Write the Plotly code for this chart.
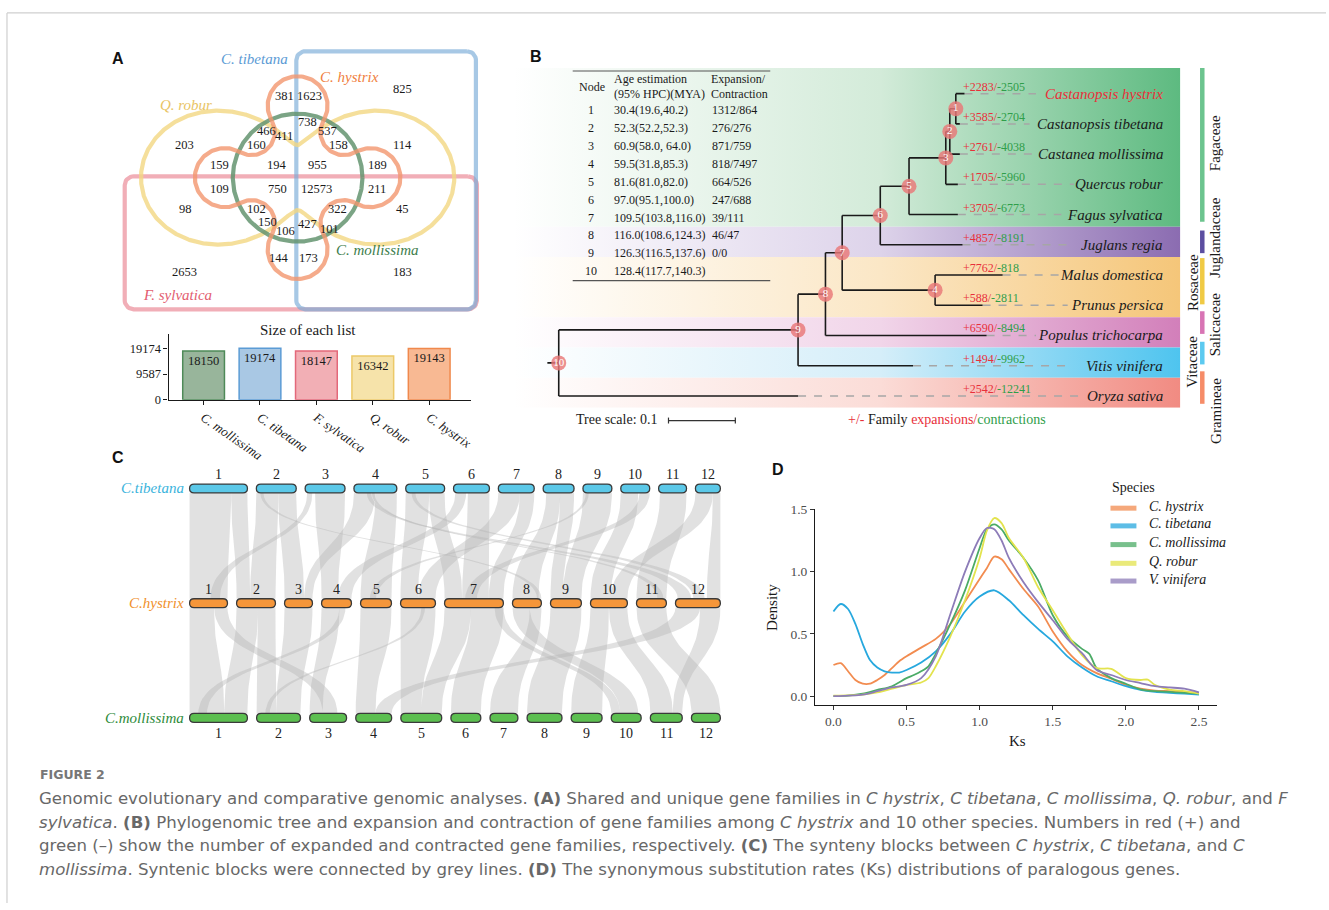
import numpy as np
import plotly.graph_objects as go

W, H = 1329, 910
SERIF = "Liberation Serif"
SANS = "Liberation Sans"
CAPF = "DejaVu Sans"

# ===================== DATA =====================
# ---- Panel A: Venn + list sizes ----
venn_set_names = ["C. tibetana", "C. hystrix", "Q. robur", "C. mollissima", "F. sylvatica"]
venn_region_counts = [825, 381, 1623, 738, 466, 411, 537, 203, 160, 158, 114,
                      159, 194, 955, 189, 109, 750, 12573, 211, 98, 102, 322, 45,
                      150, 106, 427, 101, 144, 173, 2653, 183]
list_names = ["C. mollissima", "C. tibetana", "F. sylvatica", "Q. robur", "C. hystrix"]
list_sizes = [18150, 19174, 18147, 16342, 19143]
size_ticks = [0, 9587, 19174]

# ---- Panel B: table + tree ----
table_node = ["1", "2", "3", "4", "5", "6", "7", "8", "9", "10"]
table_age = ["30.4(19.6,40.2)", "52.3(52.2,52.3)", "60.9(58.0, 64.0)", "59.5(31.8,85.3)",
             "81.6(81.0,82.0)", "97.0(95.1,100.0)", "109.5(103.8,116.0)", "116.0(108.6,124.3)",
             "126.3(116.5,137.6)", "128.4(117.7,140.3)"]
table_expcon = ["1312/864", "276/276", "871/759", "818/7497", "664/526", "247/688",
                "39/111", "46/47", "0/0", ""]
species = ["Castanopsis hystrix", "Castanopsis tibetana", "Castanea mollissima", "Quercus robur",
           "Fagus sylvatica", "Juglans regia", "Malus domestica", "Prunus persica",
           "Populus trichocarpa", "Vitis vinifera", "Oryza sativa"]
leaf_depth = [0.607, 0.600, 0.600, 0.597, 0.597, 0.604, 0.664, 0.634, 0.640, 0.530, 0.358]
species_expansion = [2283, 3585, 2761, 1705, 3705, 4857, 7762, 588, 6590, 1494, 2542]
species_contraction = [2505, 2704, 4038, 5960, 6773, 8191, 818, 2811, 8494, 9962, 12241]
node_names = [1, 2, 3, 4, 5, 6, 7, 8, 9, 10]
node_children = [("Castanopsis hystrix", "Castanopsis tibetana"), (1, "Castanea mollissima"),
                 (2, "Quercus robur"), ("Malus domestica", "Prunus persica"), (3, "Fagus sylvatica"),
                 (5, "Juglans regia"), (6, 4), (7, "Populus trichocarpa"), (8, "Vitis vinifera"),
                 (9, "Oryza sativa")]
node_depth = [0.594, 0.585, 0.579, 0.563, 0.524, 0.481, 0.424, 0.399, 0.358, 0.0]
families = ["Fagaceae", "Juglandaceae", "Rosaceae", "Salicaceae", "Vitaceae", "Gramineae"]
family_first_leaf = [0, 5, 6, 8, 9, 10]
family_last_leaf = [4, 5, 7, 8, 9, 10]
tree_scale = 0.1

# ---- Panel C: synteny ----
genomes = ["C.tibetana", "C.hystrix", "C.mollissima"]
tib_chr_len = [58, 40, 40, 43, 39, 36, 36, 31, 29, 29, 28, 25]
hys_chr_len = [38, 39, 28, 30, 31, 35, 59, 29, 31, 37, 30, 45]
mol_chr_len = [58, 44, 37, 36, 41, 30, 28, 35, 31, 30, 32, 29]
# blocks: (chrA, startFracA, endFracA, chrB, startFracB, endFracB)
syn_tib_hys = [
    (1, 0.00, 0.72, 1, 0.00, 1.00), (1, 0.72, 1.00, 2, 0.00, 0.35),
    (2, 0.00, 0.55, 2, 0.35, 1.00), (2, 0.55, 1.00, 3, 0.00, 0.70),
    (3, 0.05, 0.18, 1, 0.55, 0.80), (3, 0.25, 1.00, 4, 0.00, 0.55),
    (4, 0.00, 0.50, 3, 0.70, 1.00), (4, 0.50, 1.00, 5, 0.00, 1.00),
    (5, 0.00, 0.60, 6, 0.00, 0.50), (5, 0.60, 1.00, 7, 0.00, 0.30),
    (6, 0.05, 0.35, 4, 0.55, 1.00), (6, 0.40, 1.00, 7, 0.30, 0.75),
    (7, 0.00, 0.60, 6, 0.50, 1.00), (7, 0.60, 1.00, 7, 0.75, 1.00),
    (8, 0.10, 0.55, 8, 0.00, 0.90), (8, 0.55, 1.00, 9, 0.00, 0.40),
    (9, 0.00, 1.00, 9, 0.40, 1.00), (10, 0.00, 0.60, 10, 0.00, 0.55),
    (10, 0.65, 1.00, 7, 0.35, 0.55), (11, 0.05, 1.00, 11, 0.00, 1.00),
    (12, 0.00, 0.70, 10, 0.55, 1.00), (12, 0.70, 1.00, 12, 0.70, 1.00),
    (4, 0.30, 0.40, 12, 0.05, 0.35), (5, 0.15, 0.25, 12, 0.40, 0.65),
    (4, 0.42, 0.48, 11, 0.70, 0.90), (2, 0.10, 0.18, 8, 0.85, 1.00),
    (9, 0.10, 0.20, 5, 0.30, 0.50),
]
syn_hys_mol = [
    (1, 0.00, 0.65, 1, 0.00, 0.60), (1, 0.65, 1.00, 3, 0.35, 0.75),
    (2, 0.00, 0.55, 1, 0.60, 1.00), (2, 0.55, 1.00, 2, 0.00, 0.45),
    (3, 0.00, 1.00, 2, 0.45, 1.00), (4, 0.00, 0.60, 3, 0.00, 0.35),
    (4, 0.60, 0.80, 1, 0.15, 0.30), (5, 0.00, 1.00, 4, 0.00, 0.55),
    (6, 0.00, 1.00, 5, 0.00, 0.50), (7, 0.00, 0.45, 5, 0.50, 1.00),
    (7, 0.45, 1.00, 6, 0.00, 1.00), (8, 0.00, 0.60, 10, 0.30, 0.90),
    (8, 0.60, 1.00, 7, 0.00, 1.00), (9, 0.00, 1.00, 8, 0.00, 1.00),
    (10, 0.00, 0.50, 9, 0.00, 1.00), (10, 0.50, 1.00, 11, 0.00, 0.70),
    (11, 0.00, 1.00, 12, 0.00, 1.00), (12, 0.00, 0.55, 4, 0.55, 1.00),
    (12, 0.55, 1.00, 11, 0.70, 1.00), (7, 0.85, 1.00, 10, 0.00, 0.30),
    (6, 0.60, 0.70, 2, 0.20, 0.30),
]

# ---- Panel D: Ks density ----
ks_species = ["C. hystrix", "C. tibetana", "C. mollissima", "Q. robur", "V. vinifera"]
hystrix_ks = [0, 0.05, 0.1, 0.15, 0.2, 0.25, 0.3, 0.35, 0.4, 0.45, 0.5, 0.6, 0.7, 0.8, 0.9, 1.0, 1.05,
              1.1, 1.15, 1.2, 1.3, 1.4, 1.5, 1.6, 1.7, 1.8, 1.9, 2.0, 2.1, 2.2, 2.3, 2.4, 2.5]
hystrix_density = [0.25, 0.265, 0.20, 0.13, 0.10, 0.10, 0.13, 0.17, 0.225, 0.28, 0.32, 0.39, 0.46, 0.58,
                   0.76, 0.94, 1.03, 1.12, 1.10, 1.02, 0.86, 0.72, 0.52, 0.36, 0.25, 0.185, 0.14, 0.09,
                   0.06, 0.045, 0.04, 0.032, 0.027]
tibetana_ks = [0, 0.05, 0.1, 0.15, 0.2, 0.25, 0.3, 0.35, 0.4, 0.45, 0.5, 0.6, 0.7, 0.8, 0.9, 1.0, 1.1,
               1.2, 1.3, 1.4, 1.5, 1.6, 1.7, 1.8, 1.9, 2.0, 2.1, 2.2, 2.3, 2.4, 2.5]
tibetana_density = [0.68, 0.74, 0.70, 0.58, 0.42, 0.29, 0.23, 0.20, 0.19, 0.19, 0.21, 0.27, 0.36, 0.50,
                    0.68, 0.80, 0.85, 0.77, 0.65, 0.54, 0.44, 0.32, 0.23, 0.16, 0.12, 0.08, 0.05, 0.035,
                    0.027, 0.02, 0.013]
mollissima_ks = [0, 0.1, 0.2, 0.3, 0.4, 0.5, 0.55, 0.6, 0.65, 0.7, 0.8, 0.9, 1.0, 1.05, 1.1, 1.15, 1.2,
                 1.3, 1.4, 1.5, 1.6, 1.7, 1.75, 1.8, 1.9, 2.0, 2.1, 2.2, 2.3, 2.4, 2.5]
mollissima_density = [0.0, 0.005, 0.02, 0.05, 0.08, 0.145, 0.17, 0.20, 0.24, 0.34, 0.58, 0.85, 1.19,
                      1.34, 1.38, 1.34, 1.25, 1.11, 0.93, 0.65, 0.48, 0.38, 0.34, 0.225, 0.145, 0.10,
                      0.055, 0.04, 0.035, 0.027, 0.02]
robur_ks = [0, 0.2, 0.3, 0.4, 0.5, 0.6, 0.65, 0.7, 0.8, 0.9, 1.0, 1.05, 1.1, 1.15, 1.2, 1.3, 1.4, 1.5,
            1.6, 1.7, 1.8, 1.9, 2.0, 2.1, 2.15, 2.2, 2.3, 2.4, 2.5]
robur_density = [0.005, 0.013, 0.03, 0.06, 0.09, 0.11, 0.145, 0.24, 0.48, 0.77, 1.11, 1.33, 1.43, 1.39,
                 1.27, 1.11, 0.875, 0.69, 0.50, 0.33, 0.225, 0.22, 0.145, 0.13, 0.133, 0.09, 0.053,
                 0.04, 0.02]
vinifera_ks = [0, 0.2, 0.3, 0.4, 0.5, 0.6, 0.7, 0.8, 0.9, 1.0, 1.05, 1.1, 1.15, 1.2, 1.3, 1.4, 1.5, 1.6,
               1.7, 1.8, 1.9, 2.0, 2.1, 2.2, 2.3, 2.4, 2.5]
vinifera_density = [0.0, 0.013, 0.04, 0.07, 0.09, 0.145, 0.32, 0.66, 1.0, 1.27, 1.35, 1.34, 1.25, 1.11,
                    0.915, 0.755, 0.61, 0.46, 0.345, 0.21, 0.17, 0.13, 0.105, 0.08, 0.07, 0.06, 0.03]
ks_x_ticks = [0, 0.5, 1.0, 1.5, 2.0, 2.5]
ks_y_ticks = [0, 0.5, 1.0, 1.5]

# ===================== LAYOUT HELPERS =====================
def dx(a, b):
    return [a / W, b / W]


def dy(a, b):
    return [1 - b / H, 1 - a / H]


fig = go.Figure()
annotations = []
shapes = []


def ann(x, y, text, size=13, color="#1a1a1a", family=SERIF, xanchor="center", yanchor="middle",
        xref="x", yref="y", angle=0, **kw):
    annotations.append(dict(x=x, y=y, text=text, xref=xref, yref=yref, showarrow=False,
                            font=dict(size=size, color=color, family=family), xanchor=xanchor,
                            yanchor=yanchor, textangle=angle, **kw))


def seg(x0, y0, x1, y1, color, width):
    shapes.append(dict(type="line", x0=x0, y0=y0, x1=x1, y1=y1, xref="x", yref="y",
                       line=dict(color=color, width=width), layer="above"))


def line_trace(xs, ys, color, width, axes=("x", "y"), dash=None, opacity=1.0):
    fig.add_trace(go.Scatter(x=xs, y=ys, mode="lines", xaxis=axes[0], yaxis=axes[1],
                             line=dict(color=color, width=width, dash=dash), opacity=opacity,
                             hoverinfo="skip", showlegend=False))


# ----- frame -----
seg(7, 6, W, 6, "#cfcfcf", 1.2)
seg(7, 6, 7, H, "#cfcfcf", 1.2)

# ===================== PANEL A: Venn =====================
vcx, vcy = 298.3, 173.3
th = np.linspace(0, 2 * np.pi, 1441)


def rounded_rect(x0, y0, x1, y1, r, n=10):
    xs, ys = [], []
    for cx, cy, a0, a1 in [(x1 - r, y0 + r, -90, 0), (x1 - r, y1 - r, 0, 90),
                           (x0 + r, y1 - r, 90, 180), (x0 + r, y0 + r, 180, 270)]:
        a = np.radians(np.linspace(a0, a1, n))
        xs += list(cx + r * np.cos(a))
        ys += list(cy + r * np.sin(a))
    xs.append(xs[0]); ys.append(ys[0])
    return xs, ys


def flower(cx, cy, d, rho, rmin, n=80):
    """Four circular lobes joined by concave fillet arcs."""
    D = (d ** 2 - (rho - rmin) ** 2) / (np.sqrt(2) * d + 2 * (rho - rmin))
    rf = D - rmin
    lob = [np.array([d * np.cos(k * np.pi / 2), d * np.sin(k * np.pi / 2)]) for k in range(4)]
    fil = [np.array([D * np.cos(k * np.pi / 2 + np.pi / 4), D * np.sin(k * np.pi / 2 + np.pi / 4)])
           for k in range(4)]
    xs, ys = [], []
    for k in range(4):
        L, Fp, Fn = lob[k], fil[k - 1], fil[k]
        bs = np.arctan2(*(Fp - L)[::-1])
        be = np.arctan2(*(Fn - L)[::-1])
        while be < bs:
            be += 2 * np.pi
        a = np.linspace(bs, be, n)
        xs += list(L[0] + rho * np.cos(a)); ys += list(L[1] + rho * np.sin(a))
        F, Ln = fil[k], lob[(k + 1) % 4]
        a_s = np.arctan2(*(L - F)[::-1])
        a_e = np.arctan2(*(Ln - F)[::-1])
        while a_e > a_s:
            a_e -= 2 * np.pi
        a = np.linspace(a_s, a_e, n // 2)
        xs += list(F[0] + rf * np.cos(a)); ys += list(F[1] + rf * np.sin(a))
    xs.append(xs[0]); ys.append(ys[0])
    return cx + np.array(xs), cy - np.array(ys)


px_, py_ = rounded_rect(125, 172, 478, 307, 9)
line_trace(px_, py_, "rgba(234,130,145,0.65)", 4.2)
bx_, by_ = rounded_rect(297, 45, 477, 307, 9)
line_trace(bx_, by_, "rgba(120,170,215,0.65)", 4.2)
r_y = 95 + 62 * np.cos(2 * th)
line_trace(vcx + r_y * np.cos(th), vcy - r_y * np.sin(th), "rgba(242,215,130,0.8)", 4.2)
line_trace(vcx + 65 * np.cos(th), vcy - 65 * np.sin(th), "rgba(100,148,112,0.85)", 4.2)
fx_, fy_ = flower(vcx, vcy, 73, 30, 42)
line_trace(fx_, fy_, "rgba(243,150,110,0.8)", 4.2)

venn_name_xy = [(255, 53), (350, 71), (186, 100), (378, 247), (178, 293)]
venn_name_colors = ["#5b9bd5", "#f08040", "#e9c464", "#3d7d4c", "#e35d70"]
for name, (x, y), c in zip(venn_set_names, venn_name_xy, venn_name_colors):
    ann(x, y, f"<i>{name}</i>", size=15, color=c)

venn_label_xy = [(403, 83), (285, 90), (310, 90), (308, 117), (267, 126), (285, 131), (328, 126),
                 (185, 140), (257, 140), (339, 140), (403, 140), (220, 160), (278, 160), (318, 160),
                 (378, 160), (220, 185), (278, 185), (317, 185), (378, 185), (186, 205), (257, 205),
                 (338, 205), (403, 205), (268, 218), (286, 227), (308, 220), (330, 225), (280, 255),
                 (309, 255), (185, 269), (403, 269)]
for v, (x, y) in zip(venn_region_counts, venn_label_xy):
    ann(x, y, str(v), size=12.5)

# ----- Bar chart of list sizes -----
bar_fill = ["#98b59b", "#a9c8e4", "#f2afb5", "#f6e3aa", "#f8b993"]
bar_line = ["#4e8a58", "#5b9bd5", "#e3687a", "#ecc968", "#f0894c"]
fig.add_trace(go.Bar(x=list_names, y=list_sizes, xaxis="x2", yaxis="y2", width=0.74,
                     marker=dict(color=bar_fill, line=dict(color=bar_line, width=1.5)),
                     text=[str(v) for v in list_sizes], textposition="inside", insidetextanchor="end",
                     textangle=0, textfont=dict(family=SERIF, size=12.5, color="#1a1a1a"),
                     hoverinfo="skip", showlegend=False))
ann(309, 328, "Size of each list", size=15)

# ===================== PANEL B: tree =====================
TREE_X0, TREE_PX = 560, 670.0
LEAF_Y0, LEAF_DY = 88, 30.7
tx_range = [(515 - TREE_X0) / TREE_PX, (1183 - TREE_X0) / TREE_PX]
ty_range = [(407 - LEAF_Y0) / LEAF_DY, (62 - LEAF_Y0) / LEAF_DY]

fam_color = ["#5dba80", "#8b6cb1", "#f5c679", "#d27fba", "#4ec4ef", "#f18b82"]
fam_mid = ["#d3ebd9", "#ddd3ea", "#fbe7c6", "#f1d5e9", "#d5eef9", "#fbdcd7"]
fam_bar = ["#6cc48e", "#5c4ea0", "#f0ca44", "#d874b4", "#5ccaf0", "#f68c68"]
for i, fam in enumerate(families):
    top = ty_range[1] if i == 0 else family_first_leaf[i] - 0.6
    bot = ty_range[0] if i == len(families) - 1 else family_last_leaf[i] + 0.4
    fig.add_trace(go.Scatter(x=[tx_range[0], tx_range[1], tx_range[1], tx_range[0], tx_range[0]],
                             y=[top, top, bot, bot, top], mode="lines", fill="toself",
                             line=dict(width=0, color="rgba(0,0,0,0)"),
                             fillgradient=dict(type="horizontal",
                                               colorscale=[[0, "#ffffff"], [0.55, fam_mid[i]],
                                                           [1, fam_color[i]]]),
                             xaxis="x3", yaxis="y3", hoverinfo="skip", showlegend=False))

leaf_index = {s: i for i, s in enumerate(species)}
node_x = dict(zip(node_names, node_depth))
node_y = {}


def cy_(c):
    return leaf_index[c] if isinstance(c, str) else node_y[c]


def cx_(c):
    return leaf_depth[leaf_index[c]] if isinstance(c, str) else node_x[c]


pending = list(zip(node_names, node_children))
while pending:
    for nid, ch in list(pending):
        if all(isinstance(c, str) or c in node_y for c in ch):
            node_y[nid] = float(np.mean([cy_(c) for c in ch]))
            pending.remove((nid, ch))

bxs, bys = [], []
for nid, ch in zip(node_names, node_children):
    ys = [cy_(c) for c in ch]
    bxs += [node_x[nid], node_x[nid], None]
    bys += [min(ys), max(ys), None]
    for c in ch:
        bxs += [node_x[nid], cx_(c), None]
        bys += [cy_(c), cy_(c), None]
root = node_names[-1]
bxs += [node_x[root] - 0.017, node_x[root], None]
bys += [node_y[root], node_y[root], None]

LABEL_RIGHT_PX = 1168
dxs, dys = [], []
for i, s in enumerate(species):
    start_px = LABEL_RIGHT_PX - len(s) * 6.35 - 9
    dxs += [leaf_depth[i], (start_px - TREE_X0) / TREE_PX, None]
    dys += [i, i, None]
fig.add_trace(go.Scatter(x=dxs, y=dys, mode="lines", xaxis="x3", yaxis="y3",
                         line=dict(color="#a6a6a6", width=1.5, dash="8px,8px"),
                         hoverinfo="skip", showlegend=False))
fig.add_trace(go.Scatter(x=bxs, y=bys, mode="lines", xaxis="x3", yaxis="y3",
                         line=dict(color="#1a1a1a", width=1.6), hoverinfo="skip", showlegend=False))
fig.add_trace(go.Scatter(x=[node_x[n] for n in node_names], y=[node_y[n] for n in node_names],
                         mode="markers+text", xaxis="x3", yaxis="y3",
                         marker=dict(size=15, color="rgba(233,120,120,0.82)", line=dict(width=0)),
                         text=[str(n) for n in node_names], textposition="middle center",
                         textfont=dict(family=SERIF, size=11, color="white"),
                         hoverinfo="skip", showlegend=False))

RED, GREEN = "#e8303a", "#2f9e4a"
for i, s in enumerate(species):
    ann((963 - TREE_X0) / TREE_PX, i,
        f"<span style='color:{RED}'>+{species_expansion[i]}/</span>"
        f"<span style='color:{GREEN}'>-{species_contraction[i]}</span>",
        size=12, xanchor="left", xref="x3", yref="y3", yshift=7)
    ann((LABEL_RIGHT_PX - TREE_X0) / TREE_PX, i, f"<i>{s}</i>", size=15,
        color=RED if i == 0 else "#1a1a1a", xanchor="right", xref="x3", yref="y3")

# table
TABLE_TOP, TABLE_BOT, ROW0, ROWDY = 65, 278, 105, 18.15
seg(574, TABLE_TOP, 772, TABLE_TOP, "#555555", 1.2)
seg(574, TABLE_BOT, 772, TABLE_BOT, "#555555", 1.2)
ann(593, 81, "Node", size=12)
ann(613, 73, "Age estimation", size=12, xanchor="left")
ann(613, 88, "(95% HPC)(MYA)", size=12, xanchor="left")
ann(711, 73, "Expansion/", size=12, xanchor="left")
ann(711, 88, "Contraction", size=12, xanchor="left")
for i in range(len(table_node)):
    y = ROW0 + i * ROWDY
    ann(592, y, table_node[i], size=12)
    ann(613, y, table_age[i], size=12, xanchor="left")
    ann(712, y, table_expcon[i], size=12, xanchor="left")

# family side bars
fam_bar_y = [(62, 218), (227, 250), (255, 302), (309, 332), (340, 363), (370, 403)]
fam_lab_x = [1218, 1218, 1195, 1218, 1195, 1218]
fam_lab_y = [138, 234, 280, 322, 360, 410]
for i, fam in enumerate(families):
    seg(1205, fam_bar_y[i][0], 1205, fam_bar_y[i][1], fam_bar[i], 4.5)
    ann(fam_lab_x[i], fam_lab_y[i], fam, size=15, angle=-90)

# tree scale
SC_X0 = 670
sc_x1 = SC_X0 + tree_scale * TREE_PX
seg(SC_X0, 420, sc_x1, 420, "#333333", 1.2)
seg(SC_X0, 417, SC_X0, 423, "#333333", 1.2)
seg(sc_x1, 417, sc_x1, 423, "#333333", 1.2)
ann(575, 419, "Tree scale: 0.1", size=14, xanchor="left")
ann(848, 419, f"<span style='color:{RED}'>+/-</span> Family <span style='color:{RED}'>expansions/"
              f"</span><span style='color:{GREEN}'>contractions</span>", size=14, xanchor="left")

# ===================== PANEL C: synteny =====================
SYN_W = 532
ROW_PX = 116.5
CH_H = 4.5 / ROW_PX
all_lens = [tib_chr_len, hys_chr_len, mol_chr_len]
chr_starts = []
for lens in all_lens:
    gap = (SYN_W - sum(lens)) / (len(lens) - 1)
    st, s = [], 0.0
    for L in lens:
        st.append(s)
        s += L + gap
    chr_starts.append(st)


def pos(row, chrom, frac):
    return chr_starts[row][chrom - 1] + frac * all_lens[row][chrom - 1]


tt = np.linspace(0, 1, 40)


def bez(xa, ya, xb, yb):
    ym = (ya + yb) / 2
    bx = (1 - tt) ** 3 * xa + 3 * (1 - tt) ** 2 * tt * xa + 3 * (1 - tt) * tt ** 2 * xb + tt ** 3 * xb
    by = (1 - tt) ** 3 * ya + 3 * (1 - tt) ** 2 * tt * ym + 3 * (1 - tt) * tt ** 2 * ym + tt ** 3 * yb
    return list(bx), list(by)


for rowA, blocks in [(0, syn_tib_hys), (1, syn_hys_mol)]:
    ya, yb = rowA + CH_H, rowA + 1 - CH_H
    for ca, sa, ea, cb, sb, eb in blocks:
        a0, a1 = pos(rowA, ca, sa), pos(rowA, ca, ea)
        b0, b1 = pos(rowA + 1, cb, sb), pos(rowA + 1, cb, eb)
        lx, ly = bez(a0, ya, b0, yb)
        rx, ry = bez(a1, ya, b1, yb)
        xs = lx + rx[::-1] + [lx[0]]
        ys = ly + ry[::-1] + [ly[0]]
        fig.add_trace(go.Scatter(x=xs, y=ys, mode="lines", fill="toself",
                                 fillcolor="rgba(180,180,180,0.40)", line=dict(width=0),
                                 xaxis="x4", yaxis="y4", hoverinfo="skip", showlegend=False))

chr_fill = ["#5bc8e8", "#f5963a", "#5cbf50"]
genome_colors = ["#3ab3dc", "#f0902c", "#2e8b3a"]
RX = 4.5
for row, lens in enumerate(all_lens):
    y = row
    for k, L in enumerate(lens):
        x0 = chr_starts[row][k]
        x1 = x0 + L
        path = (f"M {x0 + RX},{y - CH_H} L {x1 - RX},{y - CH_H} Q {x1},{y - CH_H} {x1},{y} "
                f"Q {x1},{y + CH_H} {x1 - RX},{y + CH_H} L {x0 + RX},{y + CH_H} "
                f"Q {x0},{y + CH_H} {x0},{y} Q {x0},{y - CH_H} {x0 + RX},{y - CH_H} Z")
        shapes.append(dict(type="path", path=path, xref="x4", yref="y4", fillcolor=chr_fill[row],
                           line=dict(color="#3a3a3a", width=1.3), layer="above"))
        ann(x0 + L / 2, y, str(k + 1), size=14, color="#222222", xref="x4", yref="y4",
            yshift=(14 if row < 2 else -16))
    ann(186, 489 + row * ROW_PX, f"<i>{genomes[row]}</i>", size=15, color=genome_colors[row],
        xanchor="right")

# ===================== PANEL D: Ks density =====================
ks_colors = ["#f28c50", "#27a8de", "#4bab66", "#e3e34e", "#8d7cb8"]
ks_xs = [hystrix_ks, tibetana_ks, mollissima_ks, robur_ks, vinifera_ks]
ks_ys = [hystrix_density, tibetana_density, mollissima_density, robur_density, vinifera_density]
for name, c, xs, ys in zip(ks_species, ks_colors, ks_xs, ks_ys):
    fig.add_trace(go.Scatter(x=xs, y=ys, mode="lines", name=name, xaxis="x5", yaxis="y5",
                             line=dict(color=c, width=1.8, shape="spline", smoothing=0.8),
                             hoverinfo="skip", showlegend=False))
ann(1020, 745, "Ks", size=15)
ann(773, 610, "Density", size=15, angle=-90)
ann(1113, 488, "Species", size=14, xanchor="left")
leg_y = [507, 525, 544, 563, 581]
for name, c, y in zip(ks_species, ks_colors, leg_y):
    line_trace([1113, 1139], [y + 2, y + 2], c, 5, opacity=0.75)
    ann(1150, y, f"<i>{name}</i>", size=14, xanchor="left")

# ===================== panel letters + caption =====================
for letter, (x, y) in zip("ABCD", [(118, 52), (537, 50), (118, 458), (780, 470)]):
    ann(x, y, f"<b>{letter}</b>", size=16, family=SANS, color="#111111")

ann(38, 779, "<b>FIGURE 2</b>", size=12.5, family=CAPF, color="#777777", xanchor="left")
caption_lines = [
    "Genomic evolutionary and comparative genomic analyses. <b>(A)</b> Shared and unique gene families in "
    "<i>C hystrix</i>, <i>C tibetana</i>, <i>C mollissima</i>, <i>Q. robur</i>, and <i>F</i>",
    "<i>sylvatica</i>. <b>(B)</b> Phylogenomic tree and expansion and contraction of gene families among "
    "<i>C hystrix</i> and 10 other species. Numbers in red (+) and",
    "green (–) show the number of expanded and contracted gene families, respectively. <b>(C)</b> The "
    "synteny blocks between <i>C hystrix</i>, <i>C tibetana</i>, and <i>C</i>",
    "<i>mollissima</i>. Syntenic blocks were connected by grey lines. <b>(D)</b> The synonymous "
    "substitution rates (Ks) distributions of paralogous genes.",
]
for i, t in enumerate(caption_lines):
    ann(37, 804 + 24 * i, t, size=16.6, family=CAPF, color="#686868", xanchor="left")

# ===================== axes =====================
hidden = dict(visible=False, showgrid=False, zeroline=False, fixedrange=True)
tickf = dict(family=SERIF, size=12.5, color="#1a1a1a")
fig.update_layout(
    width=W, height=H, margin=dict(l=0, r=0, t=0, b=0),
    paper_bgcolor="white", plot_bgcolor="rgba(0,0,0,0)", showlegend=False,
    xaxis=dict(domain=[0, 1], range=[0, W], anchor="y", **hidden),
    yaxis=dict(domain=[0, 1], range=[H, 0], anchor="x", **hidden),
    xaxis2=dict(domain=dx(169, 472), range=[-0.62, 4.74], anchor="y2", showline=True,
                linecolor="#1a1a1a", linewidth=1.3, ticks="outside", ticklen=4, tickcolor="#1a1a1a",
                tickangle=35, tickvals=list_names, ticktext=[f"<i>{n}</i>" for n in list_names],
                tickfont=dict(family=SERIF, size=13, color="#1a1a1a"), showgrid=False, zeroline=False),
    yaxis2=dict(domain=dy(332, 399), range=[0, 24560], anchor="x2", showline=True,
                linecolor="#1a1a1a", linewidth=1.3, ticks="outside", ticklen=4, tickcolor="#1a1a1a",
                tickvals=size_ticks, ticktext=[str(v) for v in size_ticks], tickfont=tickf,
                showgrid=False, zeroline=False),
    xaxis3=dict(domain=dx(515, 1183), range=tx_range, anchor="y3", **hidden),
    yaxis3=dict(domain=dy(62, 407), range=ty_range, anchor="x3", **hidden),
    xaxis4=dict(domain=dx(180, 732), range=[-10, SYN_W + 10], anchor="y4", **hidden),
    yaxis4=dict(domain=dy(480, 731), range=[(731 - 489) / ROW_PX, (480 - 489) / ROW_PX],
                anchor="x4", **hidden),
    xaxis5=dict(domain=dx(817, 1220), range=[-0.125, 2.625], anchor="y5", showline=True,
                linecolor="#1a1a1a", linewidth=1.3, ticks="outside", ticklen=4, tickcolor="#333333",
                tickvals=ks_x_ticks, ticktext=[f"{v:.1f}" for v in ks_x_ticks],
                tickfont=dict(family=SERIF, size=13.5, color="#4d4d4d"), showgrid=False,
                zeroline=False),
    yaxis5=dict(domain=dy(510, 709), range=[-0.0715, 1.5015], anchor="x5", showline=True,
                linecolor="#1a1a1a", linewidth=1.3, ticks="outside", ticklen=4, tickcolor="#333333",
                tickvals=ks_y_ticks, ticktext=[f"{v:.1f}" for v in ks_y_ticks],
                tickfont=dict(family=SERIF, size=13.5, color="#4d4d4d"), showgrid=False,
                zeroline=False),
    annotations=annotations, shapes=shapes,
)

fig.write_html("out.html", config={"displayModeBar": False},
               post_script=("document.documentElement.style.margin='0px';"
                            "document.documentElement.style.overflow='hidden';"
                            "document.body.style.margin='0px';document.body.style.overflow='hidden';"))
